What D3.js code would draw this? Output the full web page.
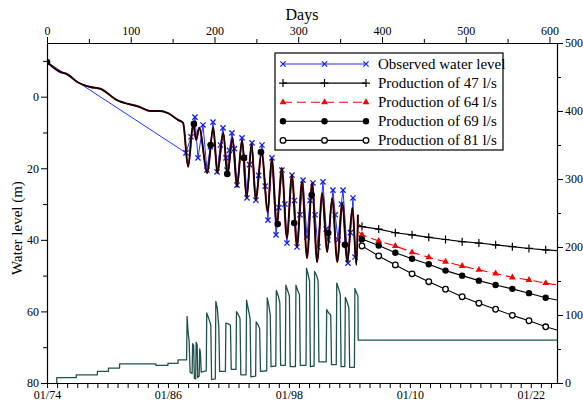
<!DOCTYPE html>
<html><head><meta charset="utf-8">
<script src="https://cdn.jsdelivr.net/npm/d3@7"></script>
<style>
body{margin:0;background:#fff}
svg{display:block}
text{font-family:"Liberation Serif","Times New Roman",serif;fill:#000}
</style>
</head><body><svg id="c" width="583" height="406"></svg>
<script>
// ---------- data ----------
const dayTicks = [0,100,200,300,400,500,600];
const dayMinor = [50,150,250,350,450,550];
const levelTicks = [0,20,40,60,80];
const levelMinor = [-10,10,30,50,70];
const prodTicks = [0,100,200,300,400,500];
const prodMinor = [50,150,250,350,450];
const dateLabelYears = [1974,1986,1998,2010,2022];
const legendLabels = ["Observed water level","Production of 47 l/s","Production of 64 l/s","Production of 69 l/s","Production of 81 l/s"];

// simulated water level (year, m)
const simulated = [
[1974.0,-9.7],[1975.3,-6.9],[1976.0,-6.3],[1977.0,-4.1],[1978.3,-2.7],[1979.3,-2.2],[1980.9,0.9],
[1983.2,2.9],[1984.2,4.0],[1985.2,4.0],[1986.0,4.6],[1987.0,6.5],[1987.5,7.3],[1988.0,19.6],
[1988.5,7.6],[1988.8,12.1],[1989.1,8.7],[1989.9,21.3],[1990.5,8.7],[1990.9,21.3],[1991.5,10.2],
[1991.9,21.9],[1992.4,11.5],[1992.85,25.2],[1993.35,12.1],[1993.8,28.3],[1994.3,13.2],[1994.7,28.9],
[1995.3,15.5],[1995.9,32.2],[1996.3,17.1],[1996.8,35.9],[1997.3,19.9],[1997.8,39.5],[1998.3,21.9],
[1998.8,42.0],[1999.3,23.8],[1999.8,45.1],[2000.3,24.1],[2000.8,46.2],[2001.3,26.9],[2001.8,43.4],
[2002.3,28.3],[2002.8,46.2],[2003.3,29.7],[2003.8,46.2],[2004.3,31.1],[2004.7,47.0],[2004.85,33.0]
];
const simMarkers = [
[1974.0,-9.7],[1988.58,7.6],[1990.24,13.5],[1991.89,21.6],[1993.54,17.1],[1995.23,15.5],
[1996.89,35.6],[1998.53,35.3],[2000.26,27.5],[2001.9,38.1],[2003.56,41.4]
];

// observed water level (year, m)
const observed = [
[1974.0,-9.7],[1987.79,15.7],[1988.29,11.2],[1988.68,5.7],[1988.98,17.1],[1989.48,7.9],[1989.87,20.5],
[1990.2,14.0],[1990.47,7.1],[1990.87,21.0],[1991.2,13.5],[1991.46,8.7],[1991.76,17.1],[1991.86,20.5],
[1992.1,15.0],[1992.35,10.1],[1992.6,14.5],[1992.85,24.7],[1993.35,11.5],[1993.6,17.0],[1993.84,28.3],
[1994.1,19.0],[1994.34,12.9],[1994.73,28.9],[1995.0,22.0],[1995.33,13.5],[1995.65,25.0],[1995.92,34.5],
[1996.32,17.1],[1996.72,38.6],[1997.0,31.0],[1997.31,20.5],[1997.6,30.0],[1997.81,40.9],[1998.31,21.9],
[1998.55,29.0],[1998.8,42.0],[1999.1,33.0],[1999.4,23.3],[1999.79,39.2],[2000.1,29.0],[2000.39,24.1],
[2000.6,33.0],[2000.88,42.0],[2001.38,23.8],[2001.7,37.0],[2001.87,40.0],[2002.37,26.1],[2002.6,33.0],
[2002.87,40.0],[2003.2,30.0],[2003.37,26.1],[2003.86,46.5],[2004.1,38.0],[2004.36,28.3],[2004.56,44.8]
];

// production (year, l/s) – right axis
const production = [
[1974.97,0],[1974.97,8],[1976.9,8],[1976.9,12],[1979.0,12],[1979.0,17],[1980.1,17],[1980.1,22],
[1981.2,22],[1981.2,28],[1984.8,28],[1984.8,26],[1986.0,26],[1986.0,29],[1987.0,29],[1987.0,34],
[1987.85,34],[1987.9,98],[1988.0,75],[1988.1,62],[1988.2,16],[1988.4,14],[1988.45,58],[1988.55,55],
[1988.62,7],[1988.75,6],[1988.8,60],[1988.9,56],[1988.95,8],[1989.1,10],[1989.15,50],[1989.22,45],
[1989.3,16],[1989.8,18],
[1989.85,103],[1990.05,95],[1990.25,85],[1990.33,5],[1990.7,6],
[1990.75,120],[1990.9,110],[1991.05,81],[1991.13,17],[1991.7,17],
[1991.75,88],[1992.0,87],[1992.2,85],[1992.28,20],[1992.75,20],
[1992.8,105],[1993.0,100],[1993.15,95],[1993.23,12],[1993.75,12],
[1993.8,122],[1993.95,110],[1994.15,95],[1994.23,9],[1994.7,10],
[1994.75,90],[1994.95,85],[1995.1,80],[1995.18,17],[1995.8,18],
[1995.85,125],[1996.0,115],[1996.15,100],[1996.23,24],[1996.7,25],
[1996.75,136],[1996.95,128],[1997.1,118],[1997.18,26],[1997.65,26],
[1997.7,144],[1997.9,135],[1998.05,128],[1998.13,24],[1998.65,24],
[1998.7,144],[1998.9,135],[1999.05,130],[1999.13,26],[1999.7,26],
[1999.75,169],[1999.9,160],[2000.05,150],[2000.13,24],[2000.5,25],
[2000.55,164],[2000.75,158],[2000.9,150],[2000.98,31],[2001.7,31],
[2001.75,108],[2001.95,103],[2002.15,100],[2002.23,27],[2002.7,27],
[2002.75,147],[2002.95,138],[2003.1,130],[2003.18,24],[2003.55,24],
[2003.6,126],[2003.8,118],[2003.95,110],[2004.03,23],[2004.5,23],
[2004.55,139],[2004.7,133],[2004.85,128],[2004.87,63],[2024.6,63]
];

// predictions (year, m)
const predYears = [2004.95,2005.25,2006.91,2008.56,2010.22,2011.88,2013.54,2015.19,2016.85,2018.51,2020.17,2021.82,2023.48,2024.6];
const pred47 = [35.8,36.3,37.0,38.0,38.6,39.3,39.9,40.5,40.9,41.4,41.9,42.4,42.8,43.0];
const pred64 = [37.8,38.6,40.3,41.7,43.5,44.9,46.1,47.3,48.4,49.4,50.5,51.2,52.1,52.6];
const pred69 = [38.9,39.8,41.6,43.6,45.3,46.8,48.6,50.0,51.4,52.6,53.7,54.9,56.2,56.8];
const pred81 = [40.0,41.7,44.5,47.0,49.5,51.7,53.8,55.9,57.7,59.4,61.1,62.6,64.3,65.2];

// ---------- chart ----------
const L=47,R=557,T=43,B=383;
const svg=d3.select("#c");
const xT=d3.scaleLinear().domain([1974,2024.6]).range([L,R]);
const xD=d3.scaleLinear().domain([0,609]).range([L,R]);
const yL=d3.scaleLinear().domain([-15,80]).range([T,B]);
const yP=d3.scaleLinear().domain([0,500]).range([B,T]);

svg.append("defs").append("clipPath").attr("id","clip")
  .append("rect").attr("x",L).attr("y",T).attr("width",R-L).attr("height",B-T);
const plot=svg.append("g").attr("clip-path","url(#clip)");

// production
plot.append("path").datum(production)
  .attr("d",d3.line().x(d=>xT(d[0])).y(d=>yP(d[1])))
  .attr("fill","none").attr("stroke","#1f524e").attr("stroke-width",1.3).attr("stroke-linejoin","round");

// observed
plot.append("path").datum(observed)
  .attr("d",d3.line().x(d=>xT(d[0])).y(d=>yL(d[1])))
  .attr("fill","none").attr("stroke","#2233ff").attr("stroke-width",1);
const crossPath="M-2.6,-2.6L2.6,2.6M-2.6,2.6L2.6,-2.6";
plot.selectAll(".obs").data(observed.slice(1)).enter().append("path")
  .attr("transform",d=>`translate(${xT(d[0])},${yL(d[1])})`)
  .attr("d",crossPath).attr("stroke","#1122ee").attr("stroke-width",1.3).attr("fill","none");

// simulated
const lineSim=d3.line().x(d=>xT(d[0])).y(d=>yL(d[1])).curve(d3.curveMonotoneX);
plot.append("path").datum(simulated).attr("d",lineSim)
  .attr("fill","none").attr("stroke","#7a0a0a").attr("stroke-width",2.0);
plot.append("path").datum(simulated).attr("d",lineSim)
  .attr("fill","none").attr("stroke","#0a0000").attr("stroke-width",1.4);
plot.selectAll(".sm").data(simMarkers).enter().append("circle")
  .attr("cx",d=>xT(d[0])).attr("cy",d=>yL(d[1])).attr("r",3.3).attr("fill","#000");

// predictions
const plusPath="M-4,0H4M0,-4V4";
const tri=d3.symbol().type(d3.symbolTriangle).size(20)();
const preds=[
 {v:pred47,color:"#000",dash:null,mk:"plus"},
 {v:pred64,color:"#ff0000",dash:"9,5",mk:"tri"},
 {v:pred69,color:"#000",dash:null,mk:"dot"},
 {v:pred81,color:"#000",dash:null,mk:"ring"}
];
function drawMarker(g,type,x,y,color){
  if(type==="plus") g.append("path").attr("transform",`translate(${x},${y})`).attr("d",plusPath).attr("stroke",color).attr("stroke-width",1.2);
  if(type==="tri") g.append("path").attr("transform",`translate(${x},${y})`).attr("d",tri).attr("fill",color);
  if(type==="dot") g.append("circle").attr("cx",x).attr("cy",y).attr("r",3.2).attr("fill",color);
  if(type==="ring") g.append("circle").attr("cx",x).attr("cy",y).attr("r",2.8).attr("fill","#fff").attr("stroke",color).attr("stroke-width",1.3);
  if(type==="cross") g.append("path").attr("transform",`translate(${x},${y})`).attr("d",crossPath).attr("stroke",color).attr("stroke-width",1.3).attr("fill","none");
}
preds.forEach(p=>{
  const pts=predYears.map((yr,i)=>[yr,p.v[i]]);
  plot.append("path").datum(pts)
    .attr("d",d3.line().x(d=>xT(d[0])).y(d=>yL(d[1])))
    .attr("fill","none").attr("stroke",p.color).attr("stroke-width",1.1)
    .attr("stroke-dasharray",p.dash);
  pts.forEach((d,i)=>{ if(i>0 && i<pts.length-1) drawMarker(plot,p.mk,xT(d[0]),yL(d[1]),p.color); });
});

// ---------- axes ----------
const fs="12px";
function styleAxis(g){ g.selectAll("path.domain").attr("stroke","#000").attr("stroke-width",1.2);
  g.selectAll(".tick line").attr("stroke","#000").attr("stroke-width",1);
  g.selectAll("text").style("font-size",fs).style("font-family","'Liberation Serif',serif"); }

const gTop=svg.append("g").attr("transform",`translate(0,${T})`)
  .call(d3.axisTop(xD).tickValues(dayTicks).tickSize(6).tickSizeOuter(0).tickPadding(2));
styleAxis(gTop);
svg.append("g").attr("transform",`translate(0,${T})`)
  .call(d3.axisTop(xD).tickValues(dayMinor).tickSize(4).tickFormat("").tickSizeOuter(0))
  .call(g=>g.select(".domain").remove()).call(styleAxis);

const gLeft=svg.append("g").attr("transform",`translate(${L},0)`)
  .call(d3.axisLeft(yL).tickValues(levelTicks).tickSize(6).tickSizeOuter(0).tickPadding(2));
styleAxis(gLeft);
svg.append("g").attr("transform",`translate(${L},0)`)
  .call(d3.axisLeft(yL).tickValues(levelMinor).tickSize(4).tickFormat("").tickSizeOuter(0))
  .call(g=>g.select(".domain").remove()).call(styleAxis);

const gRight=svg.append("g").attr("transform",`translate(${R},0)`)
  .call(d3.axisRight(yP).tickValues(prodTicks).tickSize(6).tickSizeOuter(0).tickPadding(2));
styleAxis(gRight);
svg.append("g").attr("transform",`translate(${R},0)`)
  .call(d3.axisRight(yP).tickValues(prodMinor).tickSize(4).tickFormat("").tickSizeOuter(0))
  .call(g=>g.select(".domain").remove()).call(styleAxis);

const allYears=d3.range(1974,2025);
const gBot=svg.append("g").attr("transform",`translate(0,${B})`)
  .call(d3.axisBottom(xT).tickValues(allYears).tickSize(5).tickSizeOuter(0).tickPadding(2)
    .tickFormat(y=>dateLabelYears.includes(y)?"01/"+String(y).slice(2):""));
styleAxis(gBot);

// titles
svg.append("text").attr("x",(L+R)/2).attr("y",20).attr("text-anchor","middle").style("font-size","16px").text("Days");
svg.append("text").attr("transform",`translate(22,${(T+B)/2+15}) rotate(-90)`).attr("text-anchor","middle").style("font-size","15px").text("Water level (m)");

// legend
const lg=svg.append("g");
lg.append("rect").attr("x",275).attr("y",53).attr("width",228).attr("height",97)
  .attr("fill","#fff").attr("stroke","#000").attr("stroke-width",1.2);
const legendStyles=[
 {color:"#2233ff",dash:null,mk:"cross",mc:"#1122ee"},
 {color:"#000",dash:null,mk:"plus",mc:"#000"},
 {color:"#ff0000",dash:"9,5",mk:"tri",mc:"#ff0000"},
 {color:"#000",dash:null,mk:"dot",mc:"#000"},
 {color:"#000",dash:null,mk:"ring",mc:"#000"}
];
legendLabels.forEach((lab,i)=>{
  const y=64+i*19.1;
  const s=legendStyles[i];
  lg.append("line").attr("x1",283).attr("x2",366).attr("y1",y).attr("y2",y)
    .attr("stroke",s.color).attr("stroke-width",1.1).attr("stroke-dasharray",s.dash);
  [283,324.5,366].forEach(x=>drawMarker(lg,s.mk,x,y,s.mc));
  lg.append("text").attr("x",378).attr("y",y+5).style("font-size","15px").text(lab);
});
</script>
</body></html>
